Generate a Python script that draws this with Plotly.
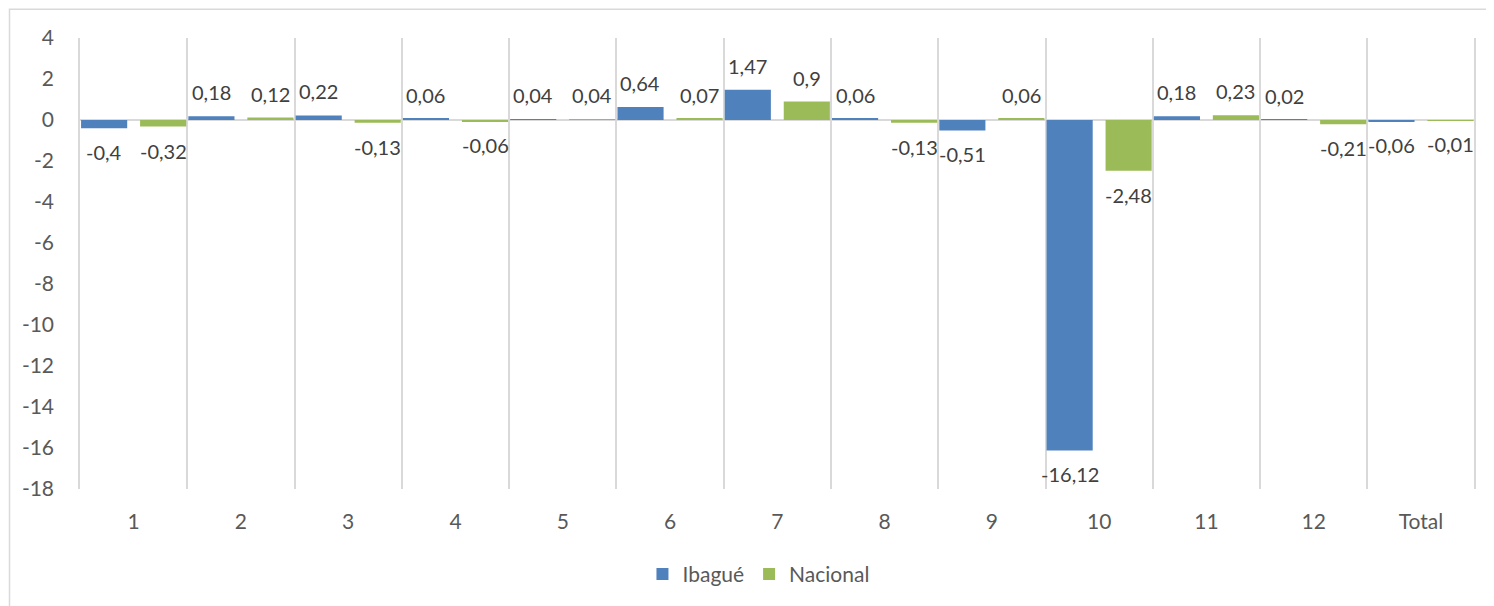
import plotly.graph_objects as go

categories = ["1", "2", "3", "4", "5", "6", "7", "8", "9", "10", "11", "12", "Total"]
ibague = [-0.4, 0.18, 0.22, 0.06, 0.04, 0.64, 1.47, 0.06, -0.51, -16.12, 0.18, 0.02, -0.06]
nacional = [-0.32, 0.12, -0.13, -0.06, 0.04, 0.07, 0.9, -0.13, 0.06, -2.48, 0.23, -0.21, -0.01]
y_ticks = list(range(-18, 5, 2))
y_tick_text = [str(t) for t in y_ticks]


def fmt(v):
    return str(v).replace(".", ",")


FONT = "Lato"
LABEL_SIZE = 20
CAT_PX = 1396 / len(categories)
BAR_W = 0.43
OFFSETS = {"Ibagué": -0.49, "Nacional": 0.06}
COLORS = {"Ibagué": "#4F81BD", "Nacional": "#9BBB59"}
series = {"Ibagué": ibague, "Nacional": nacional}

fig = go.Figure()
annotations = []
for name, vals in series.items():
    fig.add_trace(go.Bar(
        x=categories, y=vals, name=name,
        marker=dict(color=COLORS[name], line=dict(width=0)),
        width=BAR_W, offset=OFFSETS[name],
    ))
    xshift = (OFFSETS[name] + BAR_W / 2) * CAT_PX
    for i, v in enumerate(vals):
        # category axis: position index i corresponds to categories[i]
        annotations.append(dict(
            x=i, y=v, xref="x", yref="y", text=fmt(v), showarrow=False,
            xshift=xshift, yshift=10 if v >= 0 else -10,
            yanchor="bottom" if v >= 0 else "top", xanchor="center",
            font=dict(family=FONT, size=LABEL_SIZE, color="#404040"),
        ))

fig.update_layout(
    width=1486, height=598,
    barmode="overlay",
    paper_bgcolor="white", plot_bgcolor="white",
    margin=dict(l=72, r=18, t=30, b=116),
    font=dict(family=FONT, size=21, color="#595959"),
    showlegend=True,
    legend=dict(orientation="h", x=0.486, xanchor="center", y=-0.141, yanchor="top",
                font=dict(family=FONT, size=21, color="#595959"), itemwidth=30),
    annotations=annotations,
    shapes=[dict(type="rect", xref="paper", yref="paper",
                 x0=-0.0505, x1=1.03, y0=-0.262, y1=1.064,
                 line=dict(color="#d9d9d9", width=1.5), layer="below")],
)
fig.update_xaxes(
    type="category", tickson="boundaries", showgrid=True, gridcolor="#d9d9d9", gridwidth=1.5,
    ticks="", showline=False, zeroline=False, ticklabelstandoff=18,
    tickfont=dict(family=FONT, size=21, color="#595959"),
)
fig.update_yaxes(
    range=[-18, 4], tickvals=y_ticks, ticktext=y_tick_text, showgrid=False,
    zeroline=True, zerolinecolor="#d9d9d9", zerolinewidth=1.5,
    showline=True, mirror=False, linecolor="#d9d9d9", linewidth=1.5,
    ticks="", ticklabelstandoff=20,
    tickfont=dict(family=FONT, size=21, color="#595959"),
)

fig.write_html("out.html")
